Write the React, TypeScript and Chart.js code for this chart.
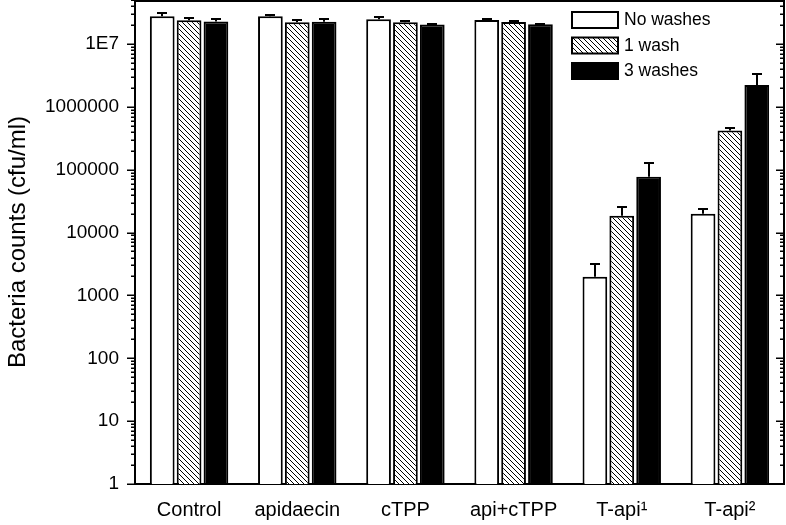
import React, { useEffect, useRef } from 'react';
import { Chart, registerables } from 'chart.js';
Chart.register(...registerables);

const categories = ['Control', 'apidaecin', 'cTPP', 'api+cTPP', 'T-api¹', 'T-api²'];
const seriesNames = ['No washes', '1 wash', '3 washes'];
const noWashes = [2.76e7, 2.76e7, 2.47e7, 2.4e7, 1980, 19900];
const noWashesErr = [3.13e7, 2.87e7, 2.7e7, 2.52e7, 3190, 23900];
const oneWash = [2.38e7, 2.22e7, 2.22e7, 2.23e7, 18500, 418000];
const oneWashErr = [2.57e7, 2.38e7, 2.3e7, 2.3e7, 25800, 467000];
const threeWashes = [2.27e7, 2.25e7, 2.04e7, 2.05e7, 77400, 2.23e6];
const threeWashesErr = [2.45e7, 2.47e7, 2.09e7, 2.09e7, 129000, 3.38e6];
const yTickValues = [1, 10, 100, 1000, 10000, 100000, 1000000, 10000000];
const yTickLabels = ['1', '10', '100', '1000', '10000', '100000', '1000000', '1E7'];
const yMin = 1;
const yMax = 5e7;
const yTitle = 'Bacteria counts (cfu/ml)';

const FONT = '"Liberation Sans", Arial, sans-serif';

function makeHatch(): CanvasPattern | string {
  const s = 5;
  const c = document.createElement('canvas');
  c.width = s;
  c.height = s;
  const g = c.getContext('2d');
  if (!g) return '#888';
  g.fillStyle = '#fff';
  g.fillRect(0, 0, s, s);
  g.strokeStyle = '#000';
  g.lineWidth = 1;
  g.beginPath();
  g.moveTo(-1, -1); g.lineTo(s + 1, s + 1);
  g.moveTo(-1, s - 1); g.lineTo(1, s + 1);
  g.moveTo(s - 1, -1); g.lineTo(s + 1, 1);
  g.stroke();
  const p = g.createPattern(c, 'repeat');
  return p || '#888';
}

const errorBarsPlugin = {
  id: 'errorBars',
  afterDatasetsDraw(chart: any) {
    const ctx = chart.ctx;
    const y = chart.scales.y;
    ctx.save();
    ctx.strokeStyle = '#000';
    ctx.lineWidth = 2;
    chart.data.datasets.forEach((ds: any, i: number) => {
      const meta = chart.getDatasetMeta(i);
      meta.data.forEach((el: any, j: number) => {
        const top = ds.errorTop[j];
        const yp = Math.round(y.getPixelForValue(top));
        const x = Math.round(el.x);
        ctx.beginPath();
        ctx.moveTo(x, el.y);
        ctx.lineTo(x, yp);
        ctx.moveTo(x - 5, yp);
        ctx.lineTo(x + 5, yp);
        ctx.stroke();
      });
    });
    ctx.restore();
  },
};

const framePlugin = {
  id: 'frameTicks',
  afterDraw(chart: any) {
    const ctx = chart.ctx;
    const a = chart.chartArea;
    const y = chart.scales.y;
    ctx.save();
    ctx.strokeStyle = '#000';
    ctx.lineWidth = 2;
    ctx.beginPath();
    ctx.moveTo(a.left - 1, a.top + 1);
    ctx.lineTo(a.right, a.top + 1);
    ctx.lineTo(a.right, a.bottom + 1);
    ctx.stroke();
    ctx.lineWidth = 1.5;
    ctx.beginPath();
    for (let d = 0; d <= 8; d++) {
      for (let k = 1; k <= 9; k++) {
        const v = k * Math.pow(10, d);
        if (v < yMin || v > yMax) continue;
        const py = Math.round(y.getPixelForValue(v)) + 0.25;
        const len = k === 1 ? 8 : 4;
        ctx.moveTo(a.left - len, py);
        ctx.lineTo(a.left, py);
        ctx.moveTo(a.right, py);
        ctx.lineTo(a.right - len, py);
      }
    }
    ctx.stroke();
    ctx.restore();
  },
};

const legendPlugin = {
  id: 'insideLegend',
  afterDraw(chart: any) {
    const ctx = chart.ctx;
    const a = chart.chartArea;
    ctx.save();
    ctx.font = '17.5px ' + FONT;
    ctx.textBaseline = 'middle';
    ctx.fillStyle = '#000';
    chart.data.datasets.forEach((ds: any, i: number) => {
      const bx = a.right - 212;
      const by = a.top + 12 + i * 25.5;
      ctx.fillStyle = ds.backgroundColor;
      ctx.fillRect(bx, by, 46, 16);
      ctx.strokeStyle = '#000';
      ctx.lineWidth = 2;
      ctx.strokeRect(bx, by, 46, 16);
      ctx.fillStyle = '#000';
      ctx.fillText(ds.label, bx + 52, by + 8.5);
    });
    ctx.restore();
  },
};

export default function App() {
  const ref = useRef<HTMLCanvasElement | null>(null);
  useEffect(() => {
    document.body.style.margin = '0';
    const canvas = ref.current;
    if (!canvas) return;
    Chart.defaults.font.family = FONT;
    const hatch = makeHatch();
    const chart = new Chart(canvas, {
      type: 'bar',
      data: {
        labels: categories,
        datasets: [
          { label: seriesNames[0], data: noWashes, errorTop: noWashesErr, backgroundColor: '#ffffff', borderColor: '#000', borderWidth: 2 } as any,
          { label: seriesNames[1], data: oneWash, errorTop: oneWashErr, backgroundColor: hatch, borderColor: '#000', borderWidth: 2 } as any,
          { label: seriesNames[2], data: threeWashes, errorTop: threeWashesErr, backgroundColor: '#000000', borderColor: '#000', borderWidth: 2 } as any,
        ],
      },
      options: {
        animation: false,
        responsive: false,
        devicePixelRatio: 1,
        categoryPercentage: 0.745,
        barPercentage: 0.92,
        layout: { padding: { top: 0, right: 2, left: 0, bottom: 0 } },
        plugins: { legend: { display: false }, tooltip: { enabled: false } },
        scales: {
          x: {
            type: 'category',
            grid: { display: false, drawTicks: false },
            border: { display: true, color: '#000', width: 2 },
            ticks: { color: '#000', font: { size: 20 }, padding: 14, maxRotation: 0, autoSkip: false },
            afterFit: (s: any) => { s.height = 41; s.paddingLeft = 0; s.paddingRight = 0; },
          },
          y: {
            type: 'logarithmic',
            min: yMin,
            max: yMax,
            grid: { display: false, drawTicks: false },
            border: { display: true, color: '#000', width: 2 },
            ticks: {
              color: '#000',
              font: { size: 19 },
              padding: 16,
              autoSkip: false,
              callback: (_v: any, i: number) => yTickLabels[i] ?? '',
            },
            afterBuildTicks: (s: any) => { s.ticks = yTickValues.map((v) => ({ value: v })); },
            afterFit: (s: any) => { s.width = 135; s.paddingTop = 0; s.paddingBottom = 0; },
            title: { display: true, text: yTitle, color: '#000', font: { size: 24 }, padding: { top: 4, bottom: 0 } },
          },
        },
      } as any,
      plugins: [errorBarsPlugin, framePlugin, legendPlugin],
    });
    return () => chart.destroy();
  }, []);
  return (
    <div style={{ position: 'absolute', left: 0, top: 0, width: 786, height: 525 }}>
      <canvas ref={ref} width={786} height={525} style={{ display: 'block' }} />
    </div>
  );
}
